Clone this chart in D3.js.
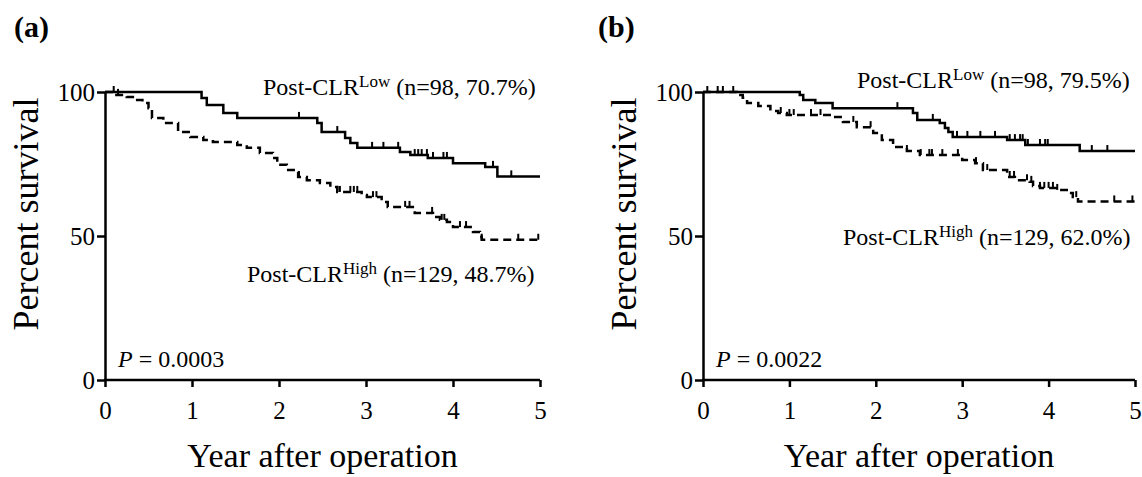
<!DOCTYPE html>
<html lang="en">
<head>
<meta charset="utf-8">
<title>Post-CLR survival</title>
<script src="https://cdn.jsdelivr.net/npm/d3@7"></script>
<style>
  body { margin: 0; background: #fff; }
  text { font-family: "Liberation Serif", "Times New Roman", serif; fill: #000; }
</style>
</head>
<body>
<script>

// Kaplan-Meier steps, [year, percent survival]
var aLow = [[0,100],[1.11,97.9],[1.17,95.5],[1.36,92.7],[1.52,91.0],[2.44,89.2],[2.49,86.1],
    [2.76,84.0],[2.82,82.3],[2.90,80.6],[3.39,79.2],[3.51,78.1],[3.71,77.1],[4.00,75.3],
    [4.37,74.0],[4.51,70.7],[5,70.7]];
var aHigh = [[0,100],[0.09,99.0],[0.25,98.3],[0.37,97.2],[0.43,96.2],[0.50,94.4],[0.54,91.0],
    [0.67,89.2],[0.84,86.1],[0.98,84.4],[1.13,83.3],[1.24,82.6],[1.52,81.6],[1.63,80.6],
    [1.78,78.8],[1.93,77.1],[1.98,74.7],[2.09,72.9],[2.22,70.5],[2.32,69.4],[2.47,68.4],
    [2.59,67.0],[2.67,65.3],[2.95,64.2],[3.01,63.5],[3.18,61.8],[3.25,60.1],[3.56,58.0],
    [3.77,56.6],[3.85,55.6],[3.93,54.9],[4.00,53.1],[4.23,51.4],[4.31,49.7],[4.33,48.7],[5,48.7]];
var bLow = [[0,100],[1.12,99.0],[1.16,97.2],[1.30,96.2],[1.50,94.4],[2.43,92.7],[2.48,90.3],
    [2.74,89.2],[2.80,87.5],[2.84,86.1],[2.89,84.4],[3.52,83.3],[3.73,81.6],[4.36,79.5],[5,79.5]];
var bHigh = [[0,100],[0.39,99.0],[0.46,98.0],[0.51,96.2],[0.64,95.1],[0.78,93.4],[0.87,92.7],
    [0.97,92.0],[1.50,91.3],[1.62,89.6],[1.78,87.8],[1.97,85.8],[2.07,83.3],[2.20,80.9],
    [2.36,79.5],[2.51,78.1],[3.00,76.4],[3.15,75.3],[3.24,72.9],[3.52,70.5],[3.61,69.4],
    [3.78,68.8],[3.82,67.4],[3.90,66.7],[4.10,66.0],[4.21,64.9],[4.28,63.5],[4.34,62.0],[5,62.0]];

// censored times (years)
var aLowCensor = [0.1,2.23,2.67,3.07,3.2,3.37,3.56,3.6,3.64,3.7,3.77,3.89,3.93,4.46,4.67];
var aHighCensor = [0.15,2.23,2.67,2.7,2.82,2.86,2.9,3.08,3.12,3.45,3.5,3.76,3.87,3.9,4.08,4.15,4.33,4.75,4.98];
var bLowCensor = [0.05,0.17,0.23,0.35,2.25,2.66,2.94,3.06,3.21,3.38,3.55,3.61,3.67,3.7,3.76,3.9,3.96,3.99,4.5,4.68];
var bHighCensor = [0.9,1.0,1.05,1.25,1.36,1.74,1.94,2.36,2.52,2.62,2.65,2.77,2.95,3.16,3.29,3.55,3.6,
    3.75,3.8,3.9,3.95,4.0,4.05,4.1,4.32,4.76,4.97];

var xTicks = [0, 1, 2, 3, 4, 5];
var yTicks = [0, 50, 100];

var w = 1142;
var h = 477;

var svg = d3.select("body")
    .append("svg")
    .attr("width", w)
    .attr("height", h);

// survival value at time t on a step curve
function stepAt(data, t) {
    var v = data[0][1];
    data.forEach(function(d) { if (d[0] <= t) v = d[1]; });
    return v;
}

function drawPanel(p) {
    var x = d3.scaleLinear().domain([0, 5]).range([p.left, p.right]);
    var y = d3.scaleLinear().domain([0, 100]).range([380, 92]);
    var g = svg.append("g");

    var gx = g.append("g")
        .attr("transform", "translate(0,380)")
        .call(d3.axisBottom(x).tickValues(xTicks).tickFormat(d3.format("d"))
            .tickSize(7).tickSizeOuter(0).tickPadding(14));
    var gy = g.append("g")
        .attr("transform", "translate(" + p.left + ",0)")
        .call(d3.axisLeft(y).tickValues(yTicks).tickFormat(d3.format("d"))
            .tickSize(8).tickSizeOuter(0).tickPadding(2));

    [gx, gy].forEach(function(a) {
        a.selectAll("path, line").attr("stroke", "#000").attr("stroke-width", 2.5);
        a.selectAll("text").attr("font-size", 25).attr("font-family", "Liberation Serif");
    });
    gx.select(".domain").attr("d", "M" + (p.left - 1) + ",0H" + p.right);

    var line = d3.line()
        .x(function(d) { return x(d[0]); })
        .y(function(d) { return y(d[1]); })
        .curve(d3.curveStepAfter);

    g.append("path")
        .attr("d", line(p.low))
        .attr("fill", "none")
        .attr("stroke", "#000")
        .attr("stroke-width", 2.5);
    g.append("path")
        .attr("d", line(p.high))
        .attr("fill", "none")
        .attr("stroke", "#000")
        .attr("stroke-width", 2.5)
        .attr("stroke-dasharray", "8,5");

    // censor ticks
    [[p.low, p.lowCensor], [p.high, p.highCensor]].forEach(function(s) {
        g.selectAll(null)
            .data(s[1])
            .enter()
            .append("line")
            .attr("x1", function(d) { return x(d); })
            .attr("x2", function(d) { return x(d); })
            .attr("y1", function(d) { return y(stepAt(s[0], d)); })
            .attr("y2", function(d) { return y(stepAt(s[0], d)) - 6; })
            .attr("stroke", "#000")
            .attr("stroke-width", 2);
    });

    // panel letter
    g.append("text")
        .attr("x", p.letterX)
        .attr("y", 37)
        .attr("font-size", 30)
        .attr("font-weight", "bold")
        .text(p.letter);

    // axis titles
    g.append("text")
        .attr("transform", "translate(" + (p.left - 67) + ",214) rotate(-90)")
        .attr("text-anchor", "middle")
        .attr("font-size", 36)
        .text("Percent survival");
    g.append("text")
        .attr("x", (p.left + p.right) / 2)
        .attr("y", 467)
        .attr("text-anchor", "middle")
        .attr("font-size", 34)
        .text("Year after operation");

    // group labels
    function label(xx, yy, sup, rest) {
        var t = g.append("text").attr("x", xx).attr("y", yy).attr("font-size", 24);
        t.append("tspan").text("Post-CLR");
        t.append("tspan").attr("font-size", 17).attr("dy", -8).text(sup);
        t.append("tspan").attr("dy", 8).text(" " + rest);
    }
    label(p.lowLab[0], p.lowLab[1], "Low", p.lowText);
    label(p.highLab[0], p.highLab[1], "High", p.highText);

    var pt = g.append("text")
        .attr("x", p.left + 13)
        .attr("y", 367)
        .attr("font-size", 24);
    pt.append("tspan").attr("font-style", "italic").text("P");
    pt.append("tspan").text(" = " + p.pval);
}

drawPanel({
    left: 105, right: 540, letter: "(a)", letterX: 14,
    low: aLow, high: aHigh, lowCensor: aLowCensor, highCensor: aHighCensor,
    lowLab: [263, 95], highLab: [247, 282],
    lowText: "(n=98, 70.7%)", highText: "(n=129, 48.7%)", pval: "0.0003"
});

drawPanel({
    left: 703, right: 1135, letter: "(b)", letterX: 598,
    low: bLow, high: bHigh, lowCensor: bLowCensor, highCensor: bHighCensor,
    lowLab: [857, 88], highLab: [843, 245],
    lowText: "(n=98, 79.5%)", highText: "(n=129, 62.0%)", pval: "0.0022"
});

</script>
</body>
</html>
